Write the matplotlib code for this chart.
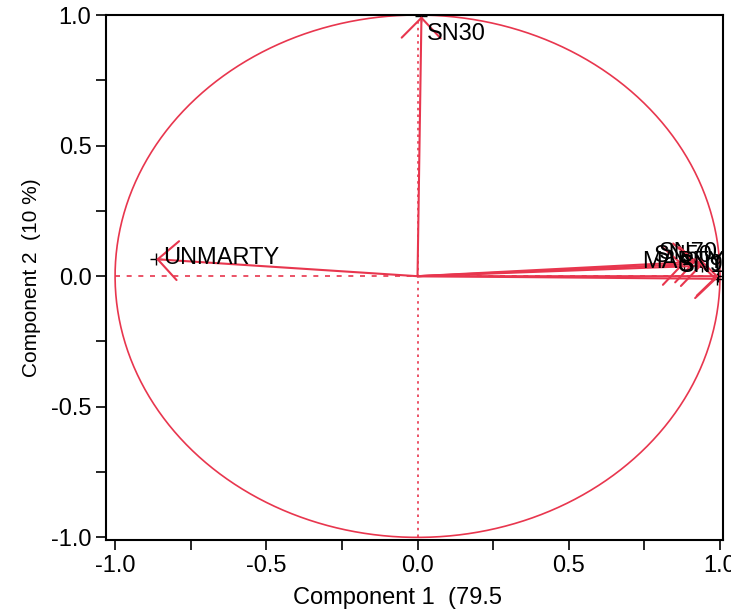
import matplotlib.pyplot as plt
import numpy as np
from matplotlib.ticker import MultipleLocator

plt.rcParams['font.family'] = ['Liberation Sans', 'DejaVu Sans']

# loadings
variables = ['SN30', 'UNMARTY', 'SN50', 'SN70', 'MARTY', 'SN90', 'SN10']
comp1 = [0.013, -0.864, 0.88, 0.92, 0.94, 0.995, 0.99]
comp2 = [0.995, 0.065, 0.045, 0.055, 0.04, 0.0, -0.01]

x_label = 'Component 1  (79.5'
y_label = 'Component 2  (10 %)'

red = '#E8364E'

# label placement (offset in points, alignment)
label_style = {
    'SN30': ((4, -13), 'left'),
    'UNMARTY': ((5, 1), 'left'),
    'SN50': ((21, 6), 'right'),
    'SN70': ((16, 6), 'right'),
    'MARTY': ((16, 2.5), 'right'),
    'SN90': ((13, 8), 'right'),
    'SN10': ((15, 9), 'right'),
}

fig = plt.figure(figsize=(7.31, 6.14), dpi=100)
ax = fig.add_axes([106 / 731, 74 / 614, 617 / 731, 525 / 614])

t = np.linspace(0, 2 * np.pi, 400)
ax.plot(np.cos(t), np.sin(t), color=red, lw=1.2)
ax.plot([-1, 1], [0, 0], color=red, lw=1.2, ls=(0, (3, 4)))
ax.plot([0, 0], [-1, 1], color=red, lw=1.2, ls=(0, (1.5, 2.5)))

for name, x, y in zip(variables, comp1, comp2):
    ax.annotate('', xy=(x, y), xytext=(0, 0),
                arrowprops=dict(arrowstyle='->,head_length=1.45,head_width=1.4',
                                color=red, lw=1.5, shrinkA=0, shrinkB=0,
                                mutation_scale=10))
    ax.plot(x, y, marker='+', color='black', ms=8, mew=1)
    off, ha = label_style[name]
    ax.annotate(name, (x, y), xytext=off, textcoords='offset points',
                ha=ha, va='center', fontsize=17, clip_on=True)

ax.set_xlim(-1.03, 1.01)
ax.set_ylim(-1.01, 1.0)
ax.xaxis.set_major_locator(MultipleLocator(0.5))
ax.xaxis.set_minor_locator(MultipleLocator(0.25))
ax.yaxis.set_major_locator(MultipleLocator(0.5))
ax.yaxis.set_minor_locator(MultipleLocator(0.25))
ax.xaxis.set_major_formatter(plt.FormatStrFormatter('%.1f'))
ax.yaxis.set_major_formatter(plt.FormatStrFormatter('%.1f'))
ax.tick_params(which='both', direction='out', length=7, width=1.2, labelsize=17)
for s in ax.spines.values():
    s.set_linewidth(1.5)

ax.set_xlabel(x_label, fontsize=17, ha='left')
ax.xaxis.set_label_coords((293 - 106) / 617, -0.09)
ax.set_ylabel(y_label, fontsize=15, labelpad=7)

fig.savefig('out.png', dpi=100)
